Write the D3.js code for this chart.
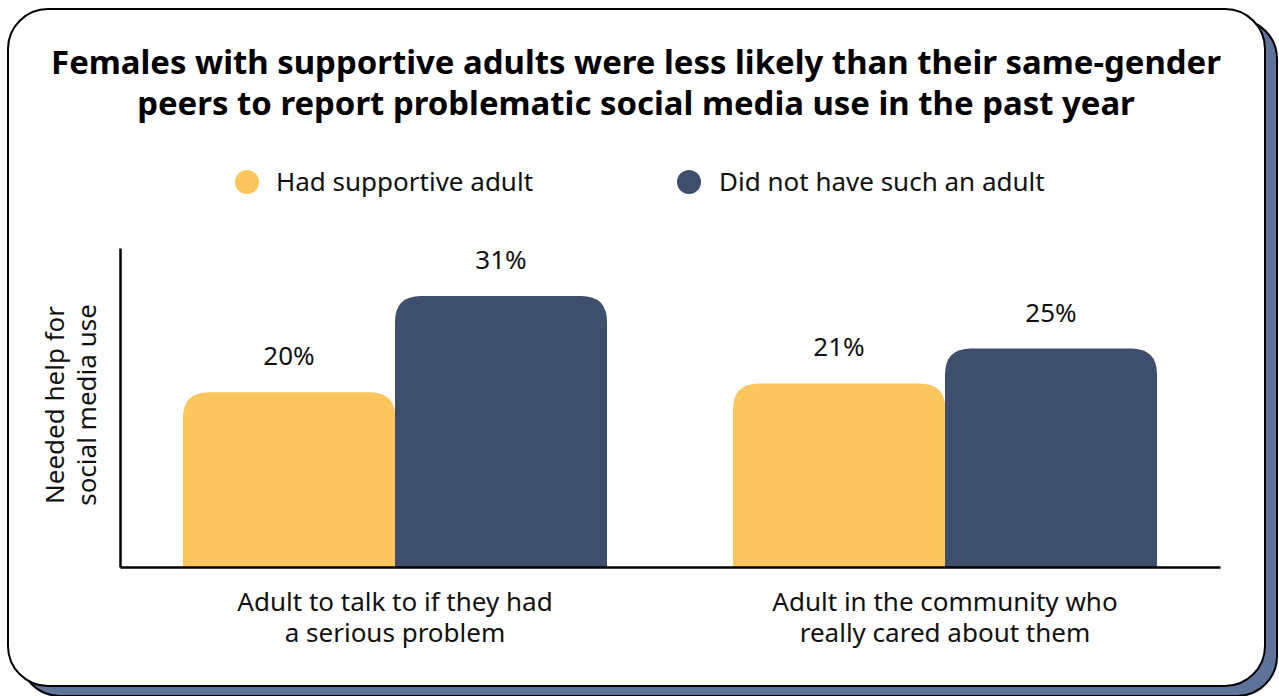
<!DOCTYPE html>
<html>
<head>
<meta charset="utf-8">
<script src="https://cdn.jsdelivr.net/npm/d3@7"></script>
<style>
  html, body { margin: 0; padding: 0; background: #ffffff; }
  svg { display: block; font-family: "Noto Sans", "Open Sans", sans-serif; }
</style>
</head>
<body>
<svg id="chart" width="1279" height="696"></svg>
<script>
// Chart data
const categories = [
  ["Adult to talk to if they had", "a serious problem"],
  ["Adult in the community who", "really cared about them"]
];
const seriesNames = ["Had supportive adult", "Did not have such an adult"];
const hadSupportiveAdult = [20, 21];
const noSuchAdult = [31, 25];
const seriesColors = ["#fdc65d", "#3e4f6d"];
const titleLines = [
  "Females with supportive adults were less likely than their same-gender",
  "peers to report problematic social media use in the past year"
];
const yTitleLines = ["Needed help for", "social media use"];

const svg = d3.select("#chart");
const bodySize = 26;

// Card with offset shadow
const card = { x: 8, y: 9, w: 1257, h: 677, r: 40 };
svg.append("rect")
  .attr("x", card.x + 12).attr("y", card.y + 10)
  .attr("width", card.w).attr("height", card.h)
  .attr("rx", card.r).attr("ry", card.r)
  .attr("fill", "#5f7299").attr("stroke", "#000").attr("stroke-width", 2);
svg.append("rect")
  .attr("x", card.x).attr("y", card.y)
  .attr("width", card.w).attr("height", card.h)
  .attr("rx", card.r).attr("ry", card.r)
  .attr("fill", "#fff").attr("stroke", "#000").attr("stroke-width", 2);

// Title
svg.append("text")
  .attr("x", 636).attr("y", 74)
  .attr("text-anchor", "middle")
  .attr("font-size", 32.9).attr("font-weight", 700).attr("fill", "#000")
  .selectAll("tspan").data(titleLines).join("tspan")
  .attr("x", 636).attr("dy", (d, i) => i === 0 ? 0 : 41)
  .text(d => d);

// Legend
const legendPos = [{ cx: 247, tx: 276 }, { cx: 689, tx: 719 }];
const legend = svg.append("g").selectAll("g").data(seriesNames).join("g");
legend.append("circle")
  .attr("cx", (d, i) => legendPos[i].cx).attr("cy", 182).attr("r", 12)
  .attr("fill", (d, i) => seriesColors[i]);
legend.append("text")
  .attr("x", (d, i) => legendPos[i].tx).attr("y", 191)
  .attr("font-size", bodySize).attr("fill", "#111")
  .text(d => d);

// Scales
const plot = { left: 120, right: 1220, top: 248, bottom: 567 };
const x0 = d3.scaleBand().domain(d3.range(categories.length))
  .range([plot.left, plot.right]).padding(0);
const x1 = d3.scaleBand().domain([0, 1])
  .range([0, x0.bandwidth()]).paddingInner(0).paddingOuter(0.297);
const y = d3.scaleLinear().domain([0, 36.5]).range([plot.bottom, plot.top]);

const rows = categories.map((c, i) => ({ i, values: [hadSupportiveAdult[i], noSuchAdult[i]] }));

// Bar path with rounded top corners
function topRounded(x, yTop, w, yBase, r) {
  r = Math.min(r, w / 2, yBase - yTop);
  return `M${x},${yBase}V${yTop + r}Q${x},${yTop} ${x + r},${yTop}` +
    `H${x + w - r}Q${x + w},${yTop} ${x + w},${yTop + r}V${yBase}Z`;
}

const groups = svg.append("g").selectAll("g").data(rows).join("g")
  .attr("transform", d => `translate(${x0(d.i)},0)`);

groups.selectAll("path").data(d => d.values.map((v, s) => ({ v, s }))).join("path")
  .attr("d", d => topRounded(x1(d.s), y(d.v), x1.bandwidth() + (d.s === 0 ? 0.5 : 0), y(0), 26))
  .attr("fill", d => seriesColors[d.s]);

groups.selectAll("text.val").data(d => d.values.map((v, s) => ({ v, s }))).join("text")
  .attr("class", "val")
  .attr("x", d => x1(d.s) + x1.bandwidth() / 2)
  .attr("y", d => y(d.v) - 27)
  .attr("text-anchor", "middle")
  .attr("font-size", bodySize).attr("fill", "#111")
  .text(d => d.v + "%");

// Axes
const xAxis = d3.axisBottom(x0).tickSize(0).tickFormat("");
svg.append("g").attr("transform", `translate(0,${plot.bottom})`).call(xAxis)
  .call(g => g.select(".domain").attr("stroke", "#000").attr("stroke-width", 2.5));
const yAxis = d3.axisLeft(y).tickValues([]).tickSize(0);
svg.append("g").attr("transform", `translate(${plot.left},0)`).call(yAxis)
  .call(g => g.select(".domain").attr("stroke", "#000").attr("stroke-width", 2.5));

// Category labels
svg.append("g").selectAll("text").data(categories).join("text")
  .attr("text-anchor", "middle")
  .attr("font-size", bodySize).attr("fill", "#111")
  .attr("y", 611)
  .each(function (lines, i) {
    const cx = x0(i) + x0.bandwidth() / 2;
    d3.select(this).selectAll("tspan").data(lines).join("tspan")
      .attr("x", cx).attr("dy", (d, j) => j === 0 ? 0 : 31)
      .text(d => d);
  });

// Y axis title
svg.append("text")
  .attr("transform", "translate(64,405) rotate(-90)")
  .attr("text-anchor", "middle")
  .attr("font-size", bodySize).attr("fill", "#111")
  .selectAll("tspan").data(yTitleLines).join("tspan")
  .attr("x", 0).attr("dy", (d, i) => i === 0 ? 0 : 32)
  .text(d => d);
</script>
</body>
</html>
